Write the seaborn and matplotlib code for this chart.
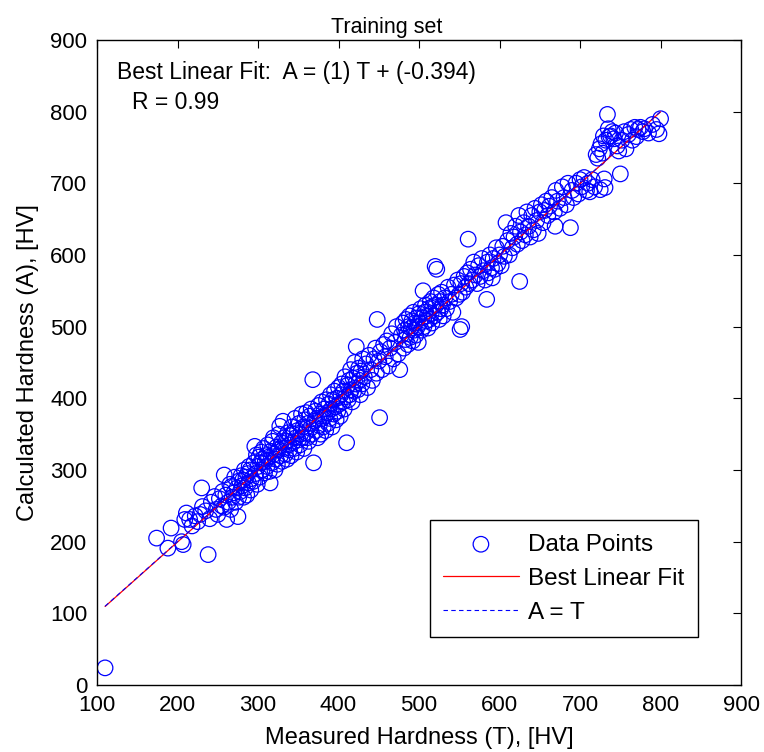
import matplotlib

matplotlib.use("Agg")
import matplotlib.pyplot as plt
import numpy as np
import seaborn as sns

# measured (T) and calculated (A) hardness, rows aligned
measured_hv = [
    110, 174, 188, 192, 205, 207, 209, 211, 215, 218,
    222, 225, 228, 230, 231, 235, 238, 240, 242, 246,
    248, 250, 252, 255, 258,
    256, 258, 260, 261, 263, 265, 266, 267, 268, 270,
    271, 272, 274, 275, 276, 277, 278, 279, 280, 281,
    282, 283, 284, 285, 286, 287, 288, 289, 290, 291,
    292, 294, 295, 296, 297, 298, 299, 300,
    301, 302, 303, 304, 305, 306, 307, 308, 309, 310,
    311, 312, 313, 314, 315, 316, 317, 318, 319, 320,
    321, 322, 323, 324, 325, 326, 327, 328, 329, 330,
    331, 332, 333, 334, 335, 336, 337, 338, 339, 340,
    341, 342, 343, 344, 345, 346, 347, 348, 349, 350,
    351, 352, 353, 354, 355, 356, 357, 358, 359, 360,
    361, 362, 363, 364, 365, 366, 367, 368, 369, 370,
    371, 372, 373, 374, 375, 376, 377, 378, 379, 380,
    381, 382, 383, 384, 385, 386, 387, 388, 389, 390,
    391, 392, 393, 394, 395, 396, 397, 398, 399, 400,
    401, 402, 403, 404, 405, 406, 407, 408, 409, 410,
    411, 412, 413, 414, 415, 416, 417, 418, 419, 420,
    421, 422, 423, 424, 425, 426, 427, 428, 429, 430,
    432, 434, 436, 438, 440, 442, 444, 446, 447, 448,
    450, 451, 452, 454, 456,
    458, 460, 462, 464, 466, 468, 470, 472, 474, 476,
    478, 480, 481, 482, 483, 484, 485, 486, 487, 488,
    489, 490, 491, 492, 493, 494, 495, 496, 497, 498,
    499, 500,
    501, 502, 503, 504, 505, 506, 507, 508, 509, 510,
    511, 512, 513, 514, 515, 516, 517, 518, 519, 520,
    521, 522, 523, 524, 525, 526, 527, 528, 529, 530,
    532, 534, 536, 538, 540, 542, 544, 546, 548, 550,
    551, 553,
    552, 554, 556, 558, 560, 561, 562, 564, 566, 568,
    570, 572, 574, 576, 578, 580, 582, 584, 585, 586,
    588, 590, 591, 592, 594, 596, 598, 600, 602, 604,
    606, 608, 610, 612, 614, 616, 618, 620, 622, 624,
    625, 626, 628, 630, 632, 634, 636, 638, 640, 642,
    644, 646, 648, 650, 652, 654, 656, 658, 660, 662,
    665, 668, 669, 670, 672, 675, 678, 680, 683, 685,
    688, 690, 692, 695, 698, 700, 702, 705, 708, 710,
    712, 715, 718, 720, 722, 724, 725, 726, 728, 729,
    730, 731, 732, 734, 735, 736, 738, 740, 742, 744,
    746, 748, 750, 752, 755, 757, 760, 763, 765, 768,
    770, 772, 775, 778, 780, 785, 790, 795, 798, 800,
]
calculated_hv = [
    24, 205, 191, 219, 200, 196, 231, 240, 231, 222,
    236, 228, 238, 275, 249, 243, 182, 232, 255, 263,
    245, 238, 260, 250, 293,
    270, 248, 265, 231, 255, 280, 245, 277, 262, 268,
    290, 255, 275, 235, 262, 285, 270, 292, 278, 286,
    262, 300, 275, 290, 265, 295, 282, 305, 300, 272,
    288, 284, 310, 333, 295, 321, 280, 305,
    318, 290, 310, 325, 300, 315, 330, 296, 312, 320,
    305, 335, 318, 298, 282, 326, 310, 340, 345, 322,
    300, 315, 332, 308, 328, 350, 361, 320, 338, 312,
    368, 330, 345, 322, 340, 315, 352, 335, 328, 348,
    320, 360, 338, 350, 330, 372, 345, 325, 355, 342,
    365, 335, 350, 378, 345, 360, 330, 370, 352, 380,
    345, 365, 340, 375, 358, 385, 350, 426, 310, 368,
    382, 355, 372, 345, 390, 362, 378, 350, 395, 372,
    360, 385, 375, 355, 398, 380, 365, 392, 372, 405,
    385, 360, 398, 378, 410, 388, 370, 400, 382, 415,
    392, 375, 405, 420, 395, 410, 385, 430, 402, 338,
    418, 398, 425, 405, 440, 412, 395, 428, 410, 450,
    420, 472, 435, 412, 442, 425, 405, 438, 420, 455,
    430, 448, 415, 460, 440, 425, 455, 470, 435, 510,
    452, 373, 465, 440, 475,
    458, 480, 445, 470, 490, 455, 478, 500, 462, 440,
    488, 505, 470, 495, 482, 510, 490, 475, 500, 515,
    485, 498, 508, 480, 520, 495, 505, 488, 512, 500,
    478, 518,
    505, 525, 495, 512, 550, 500, 520, 530, 508, 515,
    498, 525, 510, 535, 518, 505, 528, 540, 515, 584,
    530, 580, 520, 545, 510, 535, 525, 548, 530, 515,
    540, 525, 555, 535, 545, 520, 558, 540, 565, 545,
    496, 500,
    560, 548, 570, 555, 575, 622, 560, 580, 565, 590,
    572, 560, 585, 570, 595, 578, 565, 538, 590, 575,
    600, 582, 568, 595, 580, 610, 588, 600, 585, 612,
    598, 645, 620, 600, 630, 610, 625, 640, 615, 655,
    563, 632, 620, 645, 628, 660, 640, 625, 655, 635,
    665, 648, 630, 660, 670, 645, 662, 675, 655, 668,
    680, 660, 640, 690, 675, 665, 695, 680, 670, 700,
    638, 690, 680, 700, 685, 705, 695, 708, 690, 700,
    688, 705, 695, 740, 735, 748, 691, 755, 742, 766,
    706, 694, 760, 796, 776, 765, 766, 772, 762, 770,
    752, 745, 713, 760, 772, 748, 768, 775, 760, 778,
    765, 775, 778, 772, 776, 770, 782, 775, 769, 790,
]

fit_slope = 1.0
fit_intercept = -0.394
r_value = 0.99

sns.set_theme(style="white")
plt.rcParams["font.family"] = ["Liberation Sans", "DejaVu Sans"]
plt.rcParams["text.color"] = "black"
plt.rcParams["axes.labelcolor"] = "black"
plt.rcParams["xtick.color"] = "black"
plt.rcParams["ytick.color"] = "black"

fig = plt.figure(figsize=(7.64, 7.52), dpi=100)
ax = fig.add_axes([0.127, 0.089, 0.843, 0.858])

sns.scatterplot(
    x=measured_hv,
    y=calculated_hv,
    marker="o",
    s=125,
    facecolor="none",
    edgecolor="blue",
    linewidth=0.9,
    label="Data Points",
    ax=ax,
)

t_ends = np.array([min(measured_hv), max(measured_hv)])
sns.lineplot(x=t_ends, y=fit_slope * t_ends + fit_intercept, color="red",
             linewidth=0.9, label="Best Linear Fit", ax=ax)
sns.lineplot(x=t_ends, y=t_ends, color="blue", linewidth=0.8,
             linestyle=(0, (4, 3)), label="A = T", ax=ax)

ax.set_xlim(100, 900)
ax.set_ylim(0, 900)
ax.set_xticks(range(100, 901, 100))
ax.set_yticks(range(0, 901, 100))
ax.tick_params(direction="in", length=6, width=0.8, top=True, right=True,
               labelsize=16, pad=7)
for spine in ax.spines.values():
    spine.set_color("black")
    spine.set_linewidth(1.0)

ax.set_title("Training set", fontsize=15.5, pad=5, x=0.45)
ax.set_xlabel("Measured Hardness (T), [HV]", fontsize=17, labelpad=8)
ax.set_ylabel("Calculated Hardness (A), [HV]", fontsize=17, labelpad=8)

ax.text(125, 855, f"Best Linear Fit:  A = ({fit_slope:g}) T + ({fit_intercept:g})",
        fontsize=16.5, va="center", ha="left")
ax.text(143, 813, f"R = {r_value:g}", fontsize=16.5, va="center", ha="left")

leg = ax.legend(loc="lower right", bbox_to_anchor=(0.933, 0.074), fontsize=17.5,
                frameon=True, fancybox=False, edgecolor="black", framealpha=1,
                handlelength=3.1, handletextpad=0.4, labelspacing=0.5,
                borderpad=0.55, borderaxespad=0)
leg.get_frame().set_linewidth(1.0)

fig.savefig("out.png", dpi=100)
plt.close(fig)
